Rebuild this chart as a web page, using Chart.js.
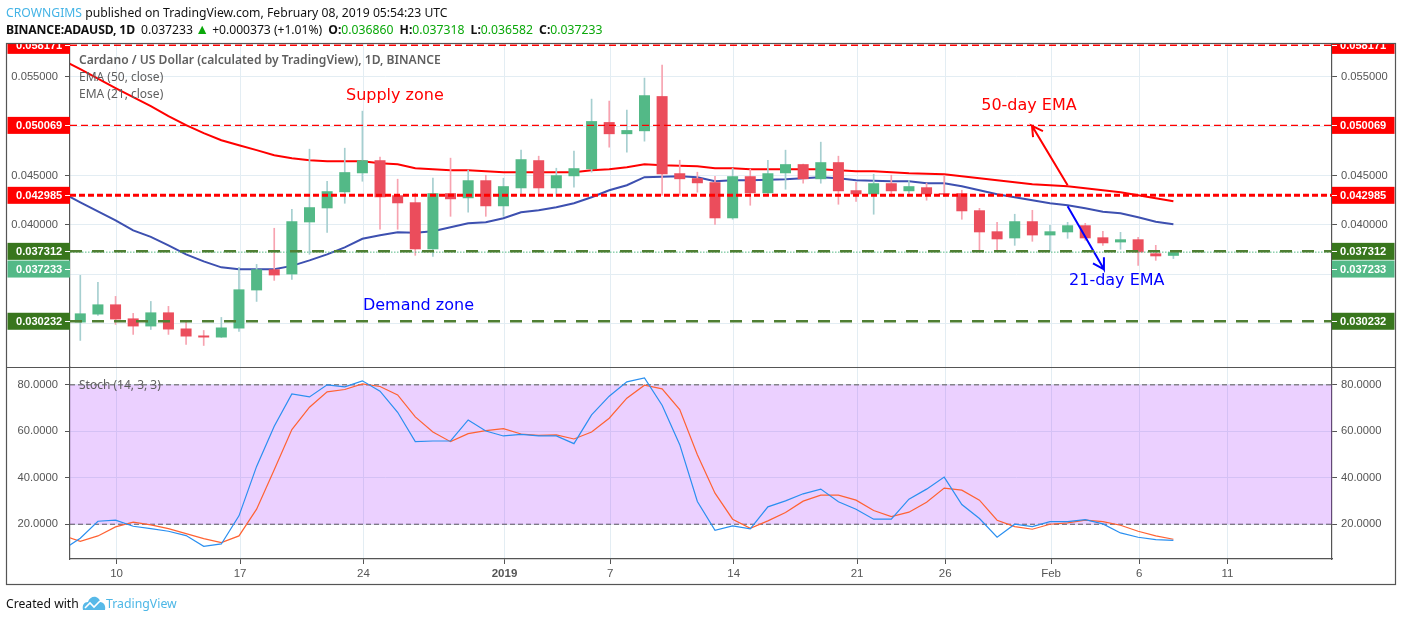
<!DOCTYPE html>
<html><head><meta charset="utf-8"><title>ADAUSD</title>
<script src="https://cdn.jsdelivr.net/npm/chart.js@4/dist/chart.umd.min.js"></script>
<style>
html,body{margin:0;padding:0;background:#fff;width:1401px;height:621px;overflow:hidden}
#chart{position:absolute;left:0;top:0}
.t{position:absolute;white-space:nowrap;font-family:"Noto Sans",sans-serif;font-size:12.2px;color:#111;line-height:16px}
.b{font-weight:700}.g{color:#0aa80a}.m{margin-left:3px}
</style></head><body>
<canvas id="chart" width="1401" height="621"></canvas>
<div class="t" style="left:6px;top:5px"><span style="color:#45b4e6">CROWNGIMS</span> published on TradingView.com, February 08, 2019 05:54:23 UTC</div>
<div class="t" style="left:6px;top:22px"><span class="b" style="letter-spacing:-.15px">BINANCE:ADAUSD, 1D</span><span style="margin-left:6px">0.037233</span> <span class="g" style="font-size:14px;margin-left:-1px;line-height:12px">▲</span> <span style="letter-spacing:-.05px">+0.000373 (+1.01%)</span> <span class="b m">O:</span><span class="g">0.036860</span> <span class="b m">H:</span><span class="g">0.037318</span> <span class="b m">L:</span><span class="g">0.036582</span> <span class="b m">C:</span><span class="g">0.037233</span></div>
<div class="t" style="left:6px;top:596px;font-size:12.2px">Created with</div>
<svg style="position:absolute;left:82px;top:595px" width="24" height="16" viewBox="0 0 24 16"><path d="M1 15c-1-5 1-8 5-8 1-4 5-6 8-5 3 1 4 3 4 5 4 0 6 4 5 8z" fill="#57b9e8"/><path d="M3 13l5-5 4 4 6-6" fill="none" stroke="#fff" stroke-width="1.6"/></svg>
<div class="t" style="left:106px;top:596px;font-size:12.3px;color:#4db7e6">TradingView</div>
<script>
const days=["Dec 8","Dec 9","Dec 10","Dec 11","Dec 12","Dec 13","Dec 14","Dec 15","Dec 16","Dec 17","Dec 18","Dec 19","Dec 20","Dec 21","Dec 22","Dec 23","Dec 24","Dec 25","Dec 26","Dec 27","Dec 28","Dec 29","Dec 30","Dec 31","Jan 1","Jan 2","Jan 3","Jan 4","Jan 5","Jan 6","Jan 7","Jan 8","Jan 9","Jan 10","Jan 11","Jan 12","Jan 13","Jan 14","Jan 15","Jan 16","Jan 17","Jan 18","Jan 19","Jan 20","Jan 21","Jan 22","Jan 23","Jan 24","Jan 25","Jan 26","Jan 27","Jan 28","Jan 29","Jan 30","Jan 31","Feb 1","Feb 2","Feb 3","Feb 4","Feb 5","Feb 6","Feb 7","Feb 8"];
const opens=[.03011,.03092,.03194,.03052,.02971,.03113,.02950,.02879,.02859,.02950,.03336,.03549,.03498,.04025,.04167,.04330,.04522,.04654,.04299,.04228,.03752,.04320,.04269,.04451,.04188,.04370,.04654,.04370,.04492,.04563,.05040,.04918,.04948,.05303,.04522,.04472,.04431,.04066,.04492,.04320,.04522,.04614,.04462,.04634,.04350,.04309,.04421,.04340,.04380,.04320,.04320,.04147,.03934,.03863,.04036,.03893,.03924,.03995,.03873,.03822,.03853,.03711,.03686];
const closes=[.03103,.03194,.03042,.02971,.03113,.02940,.02869,.02859,.02960,.03346,.03549,.03488,.04036,.04178,.04340,.04533,.04654,.04279,.04218,.03752,.04320,.04259,.04451,.04188,.04391,.04664,.04370,.04502,.04573,.05050,.04918,.04959,.05312,.04512,.04462,.04421,.04066,.04492,.04320,.04522,.04614,.04462,.04634,.04340,.04309,.04421,.04340,.04391,.04309,.04305,.04137,.03924,.03853,.04036,.03893,.03934,.03995,.03863,.03813,.03853,.03721,.03681,.037233];
const highs=[.03488,.03417,.03275,.03103,.03224,.03174,.03021,.02930,.03062,.03569,.03599,.03965,.04157,.04766,.04441,.04776,.05151,.04685,.04462,.04320,.04472,.04675,.04553,.04502,.04472,.04756,.04695,.04573,.04746,.05273,.05253,.05161,.05486,.05618,.04654,.04533,.04492,.04573,.04563,.04654,.04756,.04614,.04837,.04695,.04431,.04512,.04502,.04451,.04421,.04502,.04350,.04167,.04025,.04107,.04147,.03995,.04025,.04015,.03934,.03924,.03873,.03792,.037318];
const lows=[.02829,.03082,.02991,.02890,.02940,.02890,.02788,.02778,.02859,.02920,.03224,.03437,.03447,.03701,.03924,.04218,.04441,.03955,.03955,.03691,.03681,.04086,.04127,.04086,.04086,.04309,.04309,.04289,.04380,.04533,.04786,.04735,.04847,.04299,.04299,.04330,.04005,.04056,.04198,.04309,.04360,.04421,.04421,.04208,.04238,.04107,.04289,.04289,.04249,.04289,.04056,.03721,.03731,.03792,.03833,.03731,.03863,.03843,.03792,.03752,.03589,.03640,.036582];
// indicator series begin one session before the first visible candle (Dec 7)
const ema50=[.05668,.05577,.05481,.05385,.05293,.05202,.05101,.05009,.04928,.04857,.04806,.04756,.04705,.04675,.04654,.04644,.04644,.04644,.04624,.04614,.04573,.04563,.04553,.04553,.04543,.04533,.04533,.04533,.04533,.04533,.04553,.04563,.04583,.04614,.04604,.04598,.04593,.04573,.04573,.04563,.04563,.04563,.04563,.04563,.04553,.04543,.04543,.04533,.04522,.04517,.04512,.04492,.04472,.04451,.04431,.04411,.04401,.04391,.04370,.04350,.04330,.04299,.04269,.04238];
const ema21=[.04320,.04228,.04137,.04046,.03944,.03878,.03792,.03701,.03630,.03569,.03549,.03549,.03549,.03584,.03640,.03701,.03772,.03858,.03894,.03924,.03919,.03934,.03975,.04015,.04025,.04066,.04127,.04147,.04178,.04218,.04279,.04350,.04401,.04482,.04487,.04492,.04482,.04441,.04451,.04451,.04456,.04462,.04472,.04482,.04472,.04451,.04446,.04441,.04441,.04421,.04421,.04391,.04350,.04309,.04279,.04249,.04218,.04198,.04167,.04132,.04117,.04076,.04031,.04005];
const stochK=[9.0,13.96,21.29,21.73,19.14,18.13,16.98,15.11,10.50,11.51,23.60,44.89,62.16,76.12,74.82,80.0,79.14,81.73,77.27,68.20,55.54,55.83,55.83,64.89,60.14,57.99,58.71,57.99,57.99,54.68,67.05,75.11,81.29,83.02,71.22,54.24,29.78,17.41,19.28,17.99,27.48,30.07,33.09,35.11,29.64,26.47,22.16,22.16,30.79,35.11,40.29,28.49,22.45,14.39,20.0,18.99,21.15,21.15,22.01,20.14,16.26,14.39,13.38,13.09];
const stochD=[15.25,12.66,14.96,18.85,20.86,19.71,18.13,15.97,13.81,12.09,14.96,26.47,43.45,60.72,70.36,76.98,77.99,80.43,79.28,75.68,66.19,59.71,55.54,58.99,60.29,61.15,58.85,58.27,58.42,56.69,59.71,65.61,74.24,79.86,78.27,69.35,49.93,33.38,22.16,18.27,21.44,25.04,29.93,32.52,32.52,30.36,25.90,23.31,25.18,29.50,35.54,34.68,30.36,21.73,18.99,17.84,20.0,20.58,21.73,21.15,19.57,16.98,14.96,13.53];
const priceTicks=[0.03,0.035,0.04,0.045,0.05,0.055];
const stochTicks=[20,40,60,80];
const xTickIndex=[2,9,16,24,30,37,44,49,55,60,65];
const xTickLabels=["10","17","24","2019","7","14","21","26","Feb","6","11"];
const levelPrices=[0.058171,0.050069,0.042985,0.037312,0.030232];
const lastClose=0.037233;
const badges=[
 {text:"0.058171",price:0.058171,bg:"#ff0000"},
 {text:"0.050069",price:0.050069,bg:"#ff0000"},
 {text:"0.042985",price:0.042985,bg:"#ff0000"},
 {text:"0.037312",price:0.037312,bg:"#38761d"},
 {text:"0.037233",price:0.03552,bg:"#53b987"},
 {text:"0.030232",price:0.030232,bg:"#38761d"}];
const notes=[
 {text:"Supply zone",i:15.07,price:0.05304,color:"#ff0000"},
 {text:"50-day EMA",i:51.1,price:0.05202,color:"#ff0000"},
 {text:"Demand zone",i:16.03,price:0.03184,color:"#0000ff"},
 {text:"21-day EMA",i:56.08,price:0.03437,color:"#0000ff"}];
const arrowRed=[[56.0,.04401],[53.98,.05002],[54.6,.04948],[53.98,.05002],[54.04,.04888]];
const arrowBlue=[[56.0,.04188],[58.06,.03549],[58.06,.03671],[58.06,.03549],[57.44,.03610]];

const xMin=-0.584,xMax=70.996,tickNudge=0.06;
const GRID="#e3edf3",TXT="#555",FONT="'Liberation Sans',Arial,sans-serif";
const UP="#53b987",DN="#eb4d5c",UPW="#a6cfd0",DNW="#f7a3b0";
const isUp=i=>closes[i]>=opens[i];
const pts=a=>a.map(p=>({x:p[0],y:p[1]}));
const line=(lv,color,w,dash,extra)=>Object.assign({type:"line",yAxisID:"yP",order:0,data:[{x:xMin,y:lv},{x:xMax,y:lv}],borderColor:color,borderWidth:w,borderDash:dash,pointRadius:0,fill:false},extra||{});
const ind=(a,axis,color,w,order)=>({type:"line",yAxisID:axis,order,data:a.map((v,k)=>({x:k-1,y:v})),borderColor:color,borderWidth:w,pointRadius:0,tension:0,fill:false});

const overlay={id:"overlay",afterDraw(c){
 const g=c.ctx,yP=c.scales.yP,x=c.scales.x;
 g.save();
 g.font="16px 'DejaVu Sans',sans-serif";g.textBaseline="middle";g.textAlign="left";
 notes.forEach(n=>{g.fillStyle=n.color;g.fillText(n.text,x.getPixelForValue(n.i),yP.getPixelForValue(n.price));});
 g.fillStyle="#5f5f5f";g.font="600 12.1px 'Noto Sans',sans-serif";
 g.fillText("Cardano / US Dollar (calculated by TradingView), 1D, BINANCE",79,60.5);
 g.font="12px 'Noto Sans',sans-serif";
 g.fillText("EMA (50, close)",79,77.5);g.fillText("EMA (21, close)",79,94.5);
 g.fillText("Stoch (14, 3, 3)",79,385.5);
 g.beginPath();g.rect(0,44,1401,577);g.clip();
 badges.forEach(b=>{const y=yP.getPixelForValue(b.price);
  [[7.5,70,65,16],[1332,1394.5,1332,1340]].forEach(s=>{
   g.fillStyle=b.bg;g.fillRect(s[0],y-8.5,s[1]-s[0],17);
   g.fillStyle="#fff";g.fillRect(s[2],Math.round(y),5,1);
   g.font="bold 11.1px "+FONT;g.textAlign="left";
   g.fillText(b.text,s[3],y+0.5);
  });
 });
 g.restore();
 g.save();g.strokeStyle="#555";g.lineWidth=1.2;
 g.strokeRect(6.5,43.5,1389,541);
 g.beginPath();g.moveTo(7,367.5);g.lineTo(1395,367.5);g.stroke();
 g.restore();
}};

new Chart(document.getElementById("chart"),{
 type:"bar",
 plugins:[overlay],
 data:{datasets:[
  line(levelPrices[0],"#ff0000",1.5,[7,4]),
  line(levelPrices[1],"#ff0000",1.2,[7,4]),
  line(levelPrices[2],"#ff0000",3,[6,3]),
  line(levelPrices[3],"#4f7f33",2.5,[12,10]),
  line(levelPrices[4],"#4f7f33",2.5,[12,10]),
  line(lastClose,"#53b987",1,[1.5,1.5]),
  {type:"line",yAxisID:"yP",order:0,data:pts(arrowRed),borderColor:"#ff0000",borderWidth:2,pointRadius:0,fill:false},
  {type:"line",yAxisID:"yP",order:0,data:pts(arrowBlue),borderColor:"#0000ff",borderWidth:2,pointRadius:0,fill:false},
  {type:"bar",yAxisID:"yP",order:1,grouped:false,barThickness:11,inflateAmount:0,data:days.map((d,i)=>({x:i,y:[opens[i],closes[i]]})),backgroundColor:days.map((d,i)=>isUp(i)?UP:DN),borderWidth:0,borderSkipped:false},
  {type:"bar",yAxisID:"yP",order:2,grouped:false,barThickness:1,data:days.map((d,i)=>({x:i,y:[lows[i],highs[i]]})),backgroundColor:days.map((d,i)=>isUp(i)?UPW:DNW),borderWidth:0,borderSkipped:false},
  ind(ema50,"yP","#ff0000",2,3),
  ind(ema21,"yP","#3d50b0",2,3),
  ind(stochD,"yS","#ff6233",1.2,5),
  ind(stochK,"yS","#2a8ff0",1.2,4),
  {type:"line",yAxisID:"yS",order:6,data:[{x:xMin,y:80},{x:xMax,y:80}],borderColor:"#555",borderWidth:1,borderDash:[5,3],pointRadius:0,fill:{target:{value:20},above:"rgba(153,21,255,0.2)",below:"rgba(153,21,255,0.2)"}},
  {type:"line",yAxisID:"yS",order:6,data:[{x:xMin,y:20},{x:xMax,y:20}],borderColor:"#555",borderWidth:1,borderDash:[5,3],pointRadius:0,fill:false}
 ]},
 options:{
  responsive:false,animation:false,events:[],devicePixelRatio:1,
  layout:{padding:{left:7,right:5,top:44,bottom:36}},
  plugins:{legend:{display:false},tooltip:{enabled:false}},
  scales:{
   x:{type:"linear",min:xMin,max:xMax,offset:false,
    grid:{offset:false,color:GRID,tickColor:"#555",tickLength:5},
    border:{color:"#555",width:1.2},
    afterBuildTicks:s=>{s.ticks=xTickIndex.map(v=>({value:v+tickNudge}));},
    afterFit:s=>{s.height=26;},
    ticks:{autoSkip:false,maxRotation:0,padding:3,color:TXT,
     font:c=>({family:FONT,size:11.5,weight:c.tick&&Math.round(c.tick.value)===24?"bold":"normal"}),
     callback:v=>xTickLabels[xTickIndex.indexOf(Math.round(v))]}},
   yP:{type:"linear",position:"left",stack:"L",stackWeight:323,weight:1,min:0.02560,max:0.05831,beginAtZero:false,
    grid:{color:GRID,tickColor:"#555",tickLength:5},border:{color:"#555",width:1.2},
    afterBuildTicks:s=>{s.ticks=priceTicks.map(v=>({value:v}));},afterFit:s=>{s.width=63;},
    ticks:{padding:7,color:TXT,font:{family:FONT,size:11.2},callback:v=>v.toFixed(6)}},
   yS:{type:"linear",position:"left",stack:"L",stackWeight:192,weight:0,min:5.03,max:87.68,beginAtZero:false,
    grid:{color:GRID,tickColor:"#555",tickLength:5},border:{color:"#555",width:1.2},
    afterBuildTicks:s=>{s.ticks=stochTicks.map(v=>({value:v}));},afterFit:s=>{s.width=63;},
    ticks:{padding:7,color:TXT,font:{family:FONT,size:11.2},callback:v=>v.toFixed(4)}},
   yP2:{type:"linear",position:"right",stack:"R",stackWeight:323,weight:0,min:0.02560,max:0.05831,beginAtZero:false,
    grid:{drawOnChartArea:false,tickColor:"#555",tickLength:5},border:{color:"#555",width:1.2},
    afterBuildTicks:s=>{s.ticks=priceTicks.map(v=>({value:v}));},afterFit:s=>{s.width=64;},
    ticks:{padding:4,color:TXT,font:{family:FONT,size:11.2},callback:v=>v.toFixed(6)}},
   yS2:{type:"linear",position:"right",stack:"R",stackWeight:192,weight:1,min:5.03,max:87.68,beginAtZero:false,
    grid:{drawOnChartArea:false,tickColor:"#555",tickLength:5},border:{color:"#555",width:1.2},
    afterBuildTicks:s=>{s.ticks=stochTicks.map(v=>({value:v}));},afterFit:s=>{s.width=64;},
    ticks:{padding:4,color:TXT,font:{family:FONT,size:11.2},callback:v=>v.toFixed(4)}}
  }
 }
});
</script></body></html>
